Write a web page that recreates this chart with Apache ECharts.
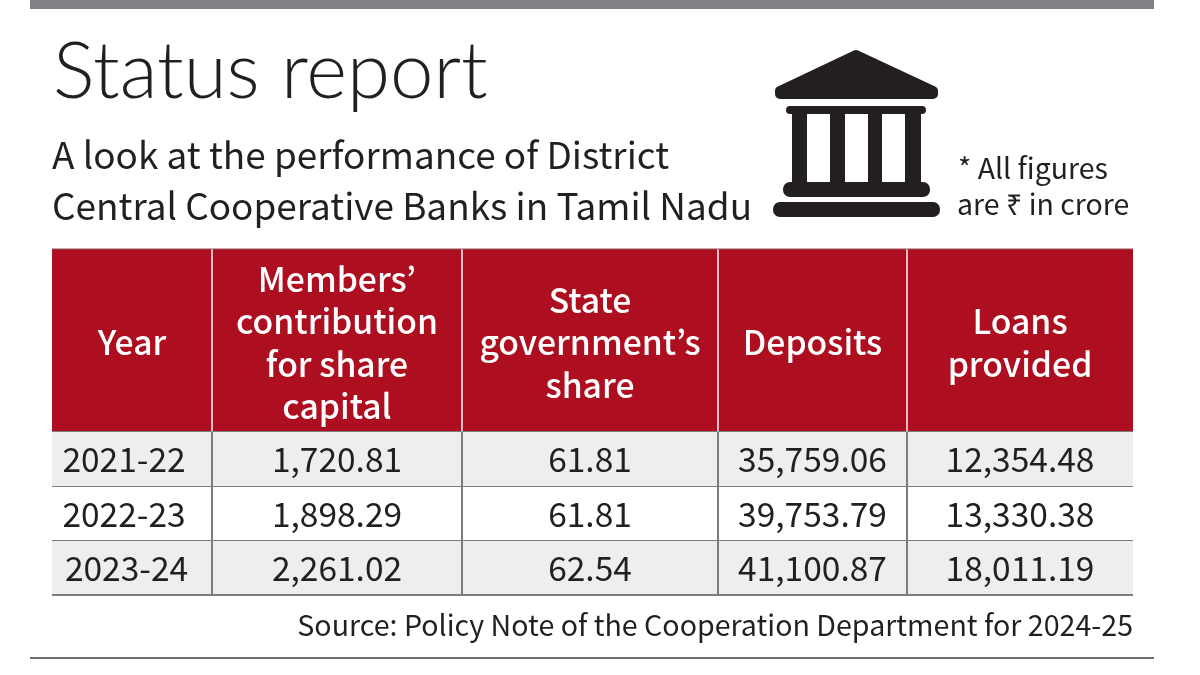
<!DOCTYPE html>
<html>
<head>
<meta charset="utf-8">
<title>Status report</title>
<script src="https://cdn.jsdelivr.net/npm/echarts@6/dist/echarts.min.js"></script>
<style>
  html, body { margin: 0; padding: 0; background: #fff; }
  #chart { width: 1200px; height: 675px; }
</style>
</head>
<body>
<div id="chart"></div>
<script>
const headers = ['Year', 'Members’\ncontribution\nfor share\ncapital', 'State\ngovernment’s\nshare', 'Deposits', 'Loans\nprovided'];
const years = ['2021-22', '2022-23', '2023-24'];
const membersShare = [1720.81, 1898.29, 2261.02];
const stateShare = [61.81, 61.81, 62.54];
const deposits = [35759.06, 39753.79, 41100.87];
const loans = [12354.48, 13330.38, 18011.19];

// table geometry, in pixels from the top left corner of the grid
const colEdges = [0, 160, 410, 666, 855, 1081];
const rowEdges = [0, 183, 238, 292, 346];

const FONT = '"Noto Sans CJK KR", "Noto Sans CJK SC", "Noto Sans", sans-serif';
const fmt = v => v.toLocaleString('en-US', { minimumFractionDigits: 2, maximumFractionDigits: 2 });

const columns = [years, membersShare.map(fmt), stateShare.map(fmt), deposits.map(fmt), loans.map(fmt)];

const cells = [];
headers.forEach((h, c) => cells.push({ value: [c, 0], text: h }));
years.forEach((y, r) => {
    columns.forEach((col, c) => cells.push({ value: [c, r + 1], text: col[r] }));
});

function renderCell(params, api) {
    const cell = cells[params.dataIndex];
    const c = api.value(0);
    const r = api.value(1);
    const tl = api.coord([colEdges[c], rowEdges[r]]);
    const br = api.coord([colEdges[c + 1], rowEdges[r + 1]]);
    const isHead = r === 0;
    const fill = isHead ? '#ae0f20' : (r % 2 === 1 ? '#eeeeee' : '#ffffff');
    const lineCol = isHead ? '#e9bcc2' : '#7d7d7d';
    // the year column sits a bit left of centre in the body rows
    const nudge = (!isHead && c === 0) ? (r === 3 ? -5.5 : -8) : 0;
    const children = [{
        type: 'rect',
        shape: { x: tl[0], y: tl[1], width: br[0] - tl[0], height: br[1] - tl[1] },
        style: { fill: fill }
    }, {
        type: 'text',
        style: {
            x: (tl[0] + br[0]) / 2 + nudge,
            y: (tl[1] + br[1]) / 2 + (isHead ? 2 : 0),
            text: cell.text,
            fill: isHead ? '#ffffff' : '#231f20',
            font: (isHead ? '500 33.7px ' : '400 33.5px ') + FONT,
            lineHeight: 42.5,
            align: 'center',
            verticalAlign: 'middle'
        }
    }];
    if (c > 0) {
        children.push({
            type: 'line',
            shape: { x1: tl[0], y1: tl[1], x2: tl[0], y2: br[1] },
            style: { stroke: lineCol, lineWidth: 2 }
        });
    }
    if (isHead) {
        children.push({
            type: 'line',
            shape: { x1: tl[0], y1: tl[1], x2: br[0], y2: tl[1] },
            style: { stroke: '#8c5258', lineWidth: 1 }
        });
    }
    children.push({
        type: 'line',
        shape: { x1: tl[0], y1: br[1], x2: br[0], y2: br[1] },
        style: { stroke: '#7d7d7d', lineWidth: 2 }
    });
    return { type: 'group', children: children };
}

const chart = echarts.init(document.getElementById('chart'), null, { renderer: 'canvas', width: 1200, height: 675 });

const ink = '#231f20';
const option = {
    backgroundColor: '#ffffff',
    animation: false,
    title: {
        text: 'Status report',
        left: 48,
        top: 29,
        textStyle: { fontFamily: 'Lato', fontWeight: 300, fontSize: 78, color: ink }
    },
    grid: { left: 52, top: 249, width: 1081, height: 346 },
    xAxis: { type: 'value', min: 0, max: 1081, show: false },
    yAxis: { type: 'value', min: 0, max: 346, inverse: true, show: false },
    series: [{
        type: 'custom',
        coordinateSystem: 'cartesian2d',
        renderItem: renderCell,
        data: cells,
        clip: false
    }],
    graphic: [
        { type: 'rect', shape: { x: 30, y: 0, width: 1124, height: 9 }, style: { fill: '#808285' } },
        { type: 'rect', shape: { x: 30, y: 657, width: 1124, height: 2 }, style: { fill: '#6d6e71' } },
        { type: 'text', style: { x: 52, y: 155, text: 'A look at the performance of District', fill: ink, font: '400 36.9px ' + FONT, verticalAlign: 'middle' } },
        { type: 'text', style: { x: 52, y: 206, text: 'Central Cooperative Banks in Tamil Nadu', fill: ink, font: '400 36.9px ' + FONT, verticalAlign: 'middle' } },
        { type: 'text', style: { x: 958, y: 168, text: '* All figures', fill: ink, font: '400 28.5px ' + FONT, verticalAlign: 'middle' } },
        { type: 'text', style: { x: 957, y: 204, text: 'are ₹ in crore', fill: ink, font: '400 28.5px ' + FONT, verticalAlign: 'middle' } },
        { type: 'text', style: { x: 1133, y: 625, text: 'Source: Policy Note of the Cooperation Department for 2024-25', fill: ink, font: '400 28.6px ' + FONT, align: 'right', verticalAlign: 'middle' } },
        // bank icon
        { type: 'polygon', shape: { points: [[856, 55], [933, 91], [933, 94], [780, 94], [780, 91]] }, style: { fill: ink, stroke: ink, lineWidth: 10, lineJoin: 'round' } },
        { type: 'rect', shape: { x: 786, y: 106, width: 140, height: 8, r: 4 }, style: { fill: ink } },
        { type: 'rect', shape: { x: 792, y: 110, width: 129, height: 76 }, style: { fill: ink } },
        { type: 'rect', shape: { x: 807, y: 114, width: 23, height: 68 }, style: { fill: '#fff' } },
        { type: 'rect', shape: { x: 845, y: 114, width: 23, height: 68 }, style: { fill: '#fff' } },
        { type: 'rect', shape: { x: 882, y: 114, width: 23, height: 68 }, style: { fill: '#fff' } },
        { type: 'rect', shape: { x: 783, y: 182, width: 147, height: 15, r: 7 }, style: { fill: ink } },
        { type: 'rect', shape: { x: 773, y: 202, width: 167, height: 15, r: 7 }, style: { fill: ink } }
    ]
};
chart.setOption(option);
</script>
</body>
</html>
